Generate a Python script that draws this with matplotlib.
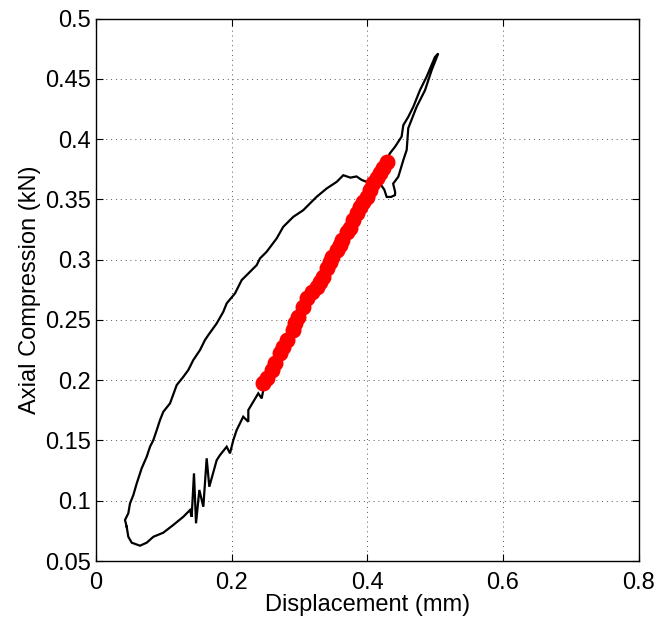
import matplotlib
matplotlib.use("Agg")
import matplotlib.pyplot as plt

# Hysteresis loop: displacement (mm) vs axial compression (kN)
loop_x = [
    0.0452, 0.0476, 0.0526, 0.0648, 0.0747, 0.0845, 0.0992, 0.1139, 0.1287, 0.1385,
    0.1410, 0.1444, 0.1474, 0.1523, 0.1582, 0.1631, 0.1670, 0.1779, 0.1828, 0.1926,
    0.1975, 0.2024, 0.2073, 0.2170, 0.2245, 0.2245, 0.2318, 0.2392, 0.2442, 0.2466,
    0.2515, 0.2589, 0.2638, 0.2712, 0.2761, 0.2810, 0.2908, 0.2933, 0.2982, 0.3055,
    0.3105, 0.3179, 0.3253, 0.3301, 0.3350, 0.3400, 0.3449, 0.3474, 0.3548, 0.3596,
    0.3621, 0.3695, 0.3744, 0.3792, 0.3842, 0.3891, 0.3940, 0.3990, 0.4038, 0.4087,
    0.4137, 0.4186, 0.4234, 0.4284, 0.4330, 0.4407, 0.4505, 0.4530, 0.4603, 0.4677,
    0.4775, 0.4873, 0.4996, 0.5045,
    0.4947, 0.4850, 0.4726, 0.4650, 0.4603, 0.4580, 0.4530, 0.4456, 0.4380, 0.4410,
    0.4407, 0.4350, 0.4285, 0.4250, 0.4200, 0.4100, 0.3990, 0.3920, 0.3840, 0.3750,
    0.3645, 0.3548, 0.3400, 0.3250, 0.3055, 0.2908, 0.2760, 0.2663, 0.2515, 0.2417,
    0.2368, 0.2295, 0.2196, 0.2147, 0.2049, 0.1926, 0.1876, 0.1779, 0.1655, 0.1606,
    0.1533, 0.1434, 0.1360, 0.1287, 0.1189, 0.1091, 0.0992, 0.0943, 0.0895, 0.0845,
    0.0796, 0.0747, 0.0673, 0.0648, 0.0600, 0.0550, 0.0501, 0.0476, 0.0427, 0.0452,
]
loop_y = [
    0.0784, 0.0701, 0.0652, 0.0627, 0.0652, 0.0701, 0.0735, 0.0799, 0.0867, 0.0923,
    0.0867, 0.1227, 0.0813, 0.1089, 0.0950, 0.1352, 0.1116, 0.1337, 0.1379, 0.1448,
    0.1393, 0.1503, 0.1586, 0.1697, 0.1655, 0.1752, 0.1821, 0.1891, 0.1849, 0.1918,
    0.2015, 0.2084, 0.2139, 0.2222, 0.2277, 0.2333, 0.2415, 0.2471, 0.2526, 0.2609,
    0.2678, 0.2733, 0.2774, 0.2816, 0.2857, 0.2927, 0.2982, 0.3023, 0.3079, 0.3120,
    0.3162, 0.3231, 0.3259, 0.3328, 0.3383, 0.3438, 0.3479, 0.3521, 0.3576, 0.3632,
    0.3673, 0.3715, 0.3756, 0.3811, 0.3880, 0.3935, 0.4020, 0.4115, 0.4184, 0.4267,
    0.4405, 0.4516, 0.4680, 0.4710,
    0.4570, 0.4405, 0.4267, 0.4157, 0.4090, 0.3910, 0.3825, 0.3687, 0.3630, 0.3560,
    0.3535, 0.3520, 0.3520, 0.3580, 0.3620, 0.3650, 0.3645, 0.3660, 0.3690, 0.3680,
    0.3700, 0.3645, 0.3590, 0.3520, 0.3410, 0.3355, 0.3272, 0.3176, 0.3065, 0.3010,
    0.2954, 0.2913, 0.2857, 0.2830, 0.2720, 0.2637, 0.2567, 0.2471, 0.2374, 0.2333,
    0.2250, 0.2167, 0.2084, 0.2028, 0.1959, 0.1808, 0.1738, 0.1669, 0.1586, 0.1503,
    0.1448, 0.1365, 0.1269, 0.1227, 0.1144, 0.1047, 0.0978, 0.0896, 0.0840, 0.0784,
]

# Selected linear segment of the loading branch
fit_x = [
    0.2466, 0.2515, 0.2589, 0.2638, 0.2712, 0.2761, 0.2810, 0.2908, 0.2933, 0.2982,
    0.3055, 0.3105, 0.3179, 0.3253, 0.3301, 0.3350, 0.3400, 0.3449, 0.3474, 0.3548,
    0.3596, 0.3621, 0.3695, 0.3744, 0.3792, 0.3842, 0.3891, 0.3940, 0.3990, 0.4038,
    0.4087, 0.4137, 0.4186, 0.4234, 0.4284,
]
fit_y = [
    0.1973, 0.2015, 0.2084, 0.2139, 0.2222, 0.2277, 0.2333, 0.2415, 0.2471, 0.2526,
    0.2609, 0.2678, 0.2733, 0.2774, 0.2816, 0.2857, 0.2927, 0.2982, 0.3023, 0.3079,
    0.3120, 0.3162, 0.3231, 0.3259, 0.3328, 0.3383, 0.3438, 0.3479, 0.3521, 0.3576,
    0.3632, 0.3673, 0.3715, 0.3756, 0.3811,
]

x_ticks = [0, 0.2, 0.4, 0.6, 0.8]
x_tick_labels = ["0", "0.2", "0.4", "0.6", "0.8"]
y_ticks = [0.05, 0.1, 0.15, 0.2, 0.25, 0.3, 0.35, 0.4, 0.45, 0.5]
y_tick_labels = ["0.05", "0.1", "0.15", "0.2", "0.25", "0.3", "0.35", "0.4", "0.45", "0.5"]

plt.rcParams["font.family"] = ["Liberation Sans", "DejaVu Sans"]

fig = plt.figure(figsize=(6.6, 6.23), dpi=100)
ax = fig.add_axes([0.1455, 0.0995, 0.8222, 0.8708])

ax.plot(loop_x, loop_y, color="black", lw=1.6, solid_joinstyle="miter", zorder=3)
ax.plot(fit_x, fit_y, linestyle="none", marker="o", markersize=10.5,
        markerfacecolor="#ff0000", markeredgecolor="#ff0000", zorder=4)

ax.set_xlim(0, 0.8)
ax.set_ylim(0.05, 0.5)
ax.set_xticks(x_ticks)
ax.set_xticklabels(x_tick_labels)
ax.set_yticks(y_ticks)
ax.set_yticklabels(y_tick_labels)

ax.grid(True, color="#555555", linestyle=(0, (1, 4)), linewidth=0.7)
ax.tick_params(direction="in", top=True, right=True, length=5, width=0.8,
               labelsize=17, colors="black")
ax.tick_params(axis="x", pad=8)
ax.tick_params(axis="y", pad=3.5)
for s in ax.spines.values():
    s.set_linewidth(1.0)

ax.set_xlabel("Displacement (mm)", fontsize=17, labelpad=0)
ax.set_ylabel("Axial Compression (kN)", fontsize=17, labelpad=3)

fig.savefig("out.png", dpi=100)
